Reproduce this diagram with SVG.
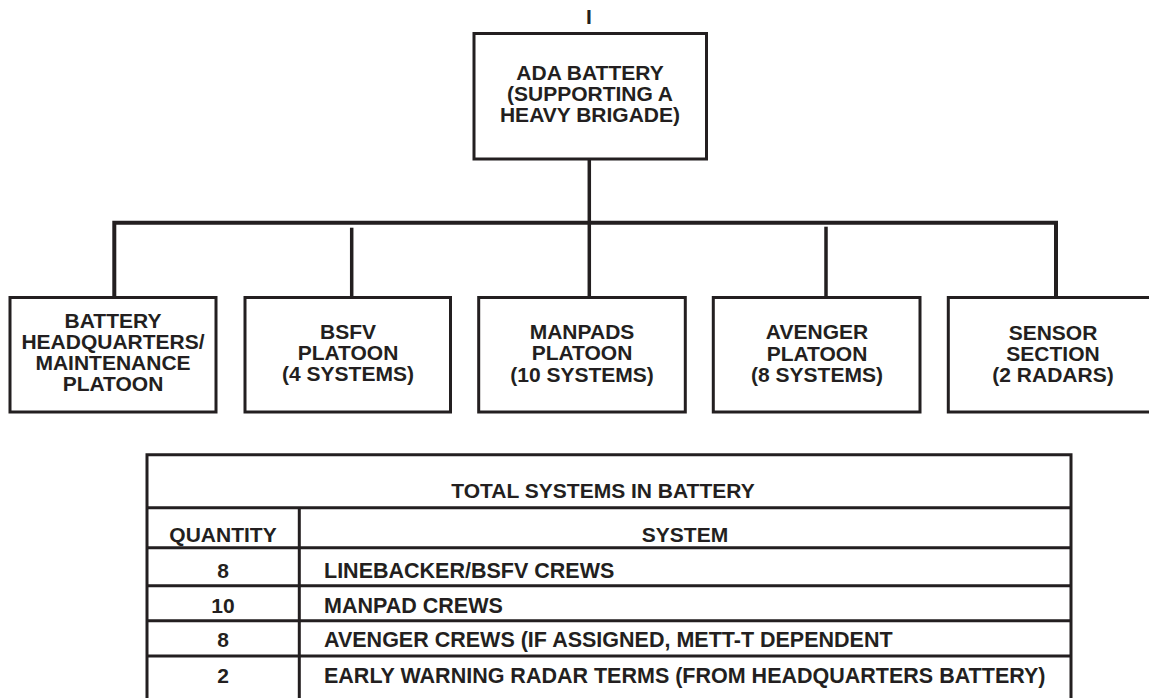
<svg xmlns="http://www.w3.org/2000/svg" width="1149" height="698" viewBox="0 0 1149 698">
<style>
.box{fill:#fff;stroke:#231f20;stroke-width:3}
.t{font-family:"Liberation Sans",Arial,Helvetica,sans-serif;font-weight:bold;font-size:21px;fill:#231f20}
.tb{font-size:21.5px}
.c{text-anchor:middle}
.ln{stroke:#231f20;stroke-width:3.5;fill:none}
.bus{stroke:#231f20;stroke-width:4;fill:none}
.tl{stroke:#231f20;stroke-width:3;fill:none}
</style>
<rect width="1149" height="698" fill="#fff"/>
<text class="t c" x="589" y="24">I</text>
<g id="connectors">
<path class="bus" d="M114.3,297 V222.7 H1056 V297"/>
<line class="ln" x1="589.3" y1="159" x2="589.3" y2="297"/>
<line class="ln" x1="351.7" y1="227.7" x2="351.7" y2="297"/>
<line class="ln" x1="826" y1="226.7" x2="826" y2="297"/>
</g>
<g id="ada-battery">
<rect class="box" x="474" y="33.5" width="232.5" height="125.5"/>
<text class="t c" x="590" y="80">ADA BATTERY</text>
<text class="t c" x="590" y="101">(SUPPORTING A</text>
<text class="t c" x="590" y="122">HEAVY BRIGADE)</text>
</g>
<g id="hq-maint">
<rect class="box" x="10" y="297.5" width="206" height="114.5"/>
<text class="t c" x="113" y="327.5">BATTERY</text>
<text class="t c" x="113" y="348.5">HEADQUARTERS/</text>
<text class="t c" x="113" y="370">MAINTENANCE</text>
<text class="t c" x="113" y="391">PLATOON</text>
</g>
<g id="bsfv">
<rect class="box" x="245" y="297.5" width="205.5" height="114.5"/>
<text class="t c" x="348" y="338.5">BSFV</text>
<text class="t c" x="348" y="360">PLATOON</text>
<text class="t c" x="348" y="381">(4 SYSTEMS)</text>
</g>
<g id="manpads">
<rect class="box" x="478.7" y="297.5" width="206.6" height="114.5"/>
<text class="t c" x="582" y="338.5">MANPADS</text>
<text class="t c" x="582" y="360">PLATOON</text>
<text class="t c" x="582" y="381.5">(10 SYSTEMS)</text>
</g>
<g id="avenger">
<rect class="box" x="713.3" y="297.5" width="206.7" height="114.5"/>
<text class="t c" x="817" y="339">AVENGER</text>
<text class="t c" x="817" y="360.5">PLATOON</text>
<text class="t c" x="817" y="381.5">(8 SYSTEMS)</text>
</g>
<g id="sensor">
<rect class="box" x="948.3" y="297.5" width="207" height="114.5"/>
<text class="t c" x="1053" y="339.5">SENSOR</text>
<text class="t c" x="1053" y="360.5">SECTION</text>
<text class="t c" x="1053" y="381.5">(2 RADARS)</text>
</g>
<g id="table">
<path class="tl" d="M147,700 V454.7 H1071 V700"/>
<path class="tl" d="M147,507.7 H1071 M147,547.7 H1071 M147,585.7 H1071 M147,620.7 H1071 M147,656 H1071 M299.3,507.7 V700"/>
<text class="t c" x="603" y="497.5">TOTAL SYSTEMS IN BATTERY</text>
<text class="t c" x="223" y="541.5">QUANTITY</text>
<text class="t c" x="685" y="541.5">SYSTEM</text>
<text class="t c" x="223" y="577.7">8</text>
<text class="t c" x="223" y="612.7">10</text>
<text class="t c" x="223" y="647.3">8</text>
<text class="t c" x="223" y="682.7">2</text>
<text class="t tb" x="324" y="577.7">LINEBACKER/BSFV CREWS</text>
<text class="t tb" x="324" y="612.7">MANPAD CREWS</text>
<text class="t tb" x="324" y="647.3">AVENGER CREWS (IF ASSIGNED, METT-T DEPENDENT</text>
<text class="t tb" x="324" y="682.7">EARLY WARNING RADAR TERMS (FROM HEADQUARTERS BATTERY)</text>
</g>
</svg>
